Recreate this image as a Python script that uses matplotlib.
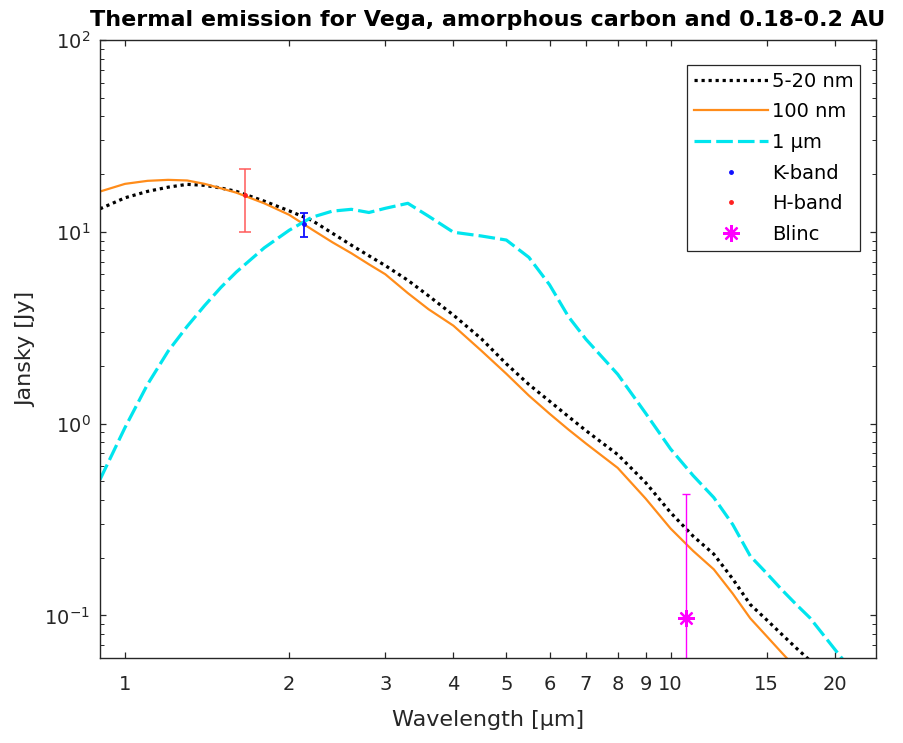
import numpy as np
import matplotlib
matplotlib.use("Agg")
import matplotlib.pyplot as plt
from matplotlib.ticker import LogLocator, NullLocator, FixedLocator, FixedFormatter

plt.rcParams['font.family'] = ['DejaVu Sans']
plt.rcParams['mathtext.fontset'] = 'dejavusans'

# Wavelength grid [um]
wavelength = [0.9, 1.0, 1.1, 1.2, 1.3, 1.4, 1.5, 1.6, 1.8, 2.0, 2.2, 2.4, 2.6, 2.8,
              3.0, 3.3, 3.6, 4.0, 4.5, 5.0, 5.5, 6.0, 6.5, 7.0, 8.0, 9.0, 10.0,
              11.0, 12.0, 13.0, 14.0, 15.0, 16.0, 17.0, 18.0, 20.0, 22.0]

# Model fluxes [Jy]
flux_5_20nm = [13.18, 15.04, 16.25, 17.09, 17.68, 17.47, 16.91, 16.25, 14.45, 12.86,
               11.48, 9.83, 8.52, 7.50, 6.67, 5.59, 4.64, 3.68, 2.77, 2.05, 1.60,
               1.31, 1.088, 0.919, 0.690, 0.493, 0.344, 0.259, 0.209, 0.155, 0.114,
               0.0949, 0.0796, 0.0676, 0.0583, 0.045, 0.035]
flux_100nm = [16.22, 17.78, 18.44, 18.66, 18.52, 17.78, 16.85, 16.00, 14.08, 12.26,
              10.30, 8.82, 7.73, 6.77, 6.01, 4.79, 3.95, 3.24, 2.40, 1.82, 1.40,
              1.127, 0.931, 0.787, 0.588, 0.407, 0.284, 0.217, 0.174, 0.130, 0.0966,
              0.0780, 0.0638, 0.0530, 0.045, 0.035, 0.028]
flux_1um = [0.511, 0.953, 1.602, 2.388, 3.213, 4.131, 5.14, 6.17, 8.25, 10.19,
            11.90, 12.82, 13.10, 12.61, 13.26, 14.08, 12.07, 9.95, 9.51, 9.06, 7.36,
            5.30, 3.61, 2.75, 1.81, 1.134, 0.738, 0.536, 0.412, 0.298, 0.204,
            0.166, 0.136, 0.114, 0.0973, 0.0666, 0.0473]

# Photometry
k_wave, k_flux, k_err = [2.13], [11.0], [1.6]
h_wave, h_flux, h_err = [1.657], [15.6], [5.6]
blinc_wave, blinc_flux, blinc_err = [10.68], [0.097], [0.335]

xtick_vals = [1, 2, 3, 4, 5, 6, 7, 8, 9, 10, 15, 20]
xtick_labels = ['1', '2', '3', '4', '5', '6', '7', '8', '9', '10', '15', '20']

fig = plt.figure(figsize=(9.04, 7.43), dpi=100)
ax = fig.add_axes([100 / 904, 1 - 658 / 743, 776 / 904, 618 / 743])

ax.plot(wavelength, flux_5_20nm, color='black', linestyle=(0, (1, 1.2)),
        linewidth=2.3, label='5-20 nm')
ax.plot(wavelength, flux_100nm, color='#FF8C1A', linewidth=1.6, label='100 nm')
ax.plot(wavelength, flux_1um, color='#00E5EE', linestyle=(0, (5.2, 1.6)),
        linewidth=2.3, label='1 µm')

# Photometric points: error bars first, then the markers that go in the legend
ax.errorbar(k_wave, k_flux, yerr=k_err, fmt='none', ecolor='#1010FF',
            capsize=3.0, elinewidth=1.3, capthick=1.3)
ax.plot(k_wave, k_flux, linestyle='none', marker='.', color='#1010FF',
        markersize=5, label='K-band')
ax.errorbar(h_wave, h_flux, yerr=h_err, fmt='none', ecolor='#FF5A5A',
            capsize=4.6, elinewidth=1.1, capthick=1.1)
ax.plot(h_wave, h_flux, linestyle='none', marker='.', color='#FF2020',
        markersize=5, label='H-band')
ax.errorbar(blinc_wave, blinc_flux, yerr=blinc_err, fmt='none', ecolor='#FF00FF',
            capsize=3.2, elinewidth=1.0, capthick=1.0)
ax.plot(blinc_wave, blinc_flux, linestyle='none', marker=(8, 2, 0), color='#FF00FF',
        markersize=12, markeredgewidth=1.6, label='Blinc')

ax.set_xscale('log')
ax.set_yscale('log')
ax.set_xlim(0.9, 23.8)
ax.set_ylim(0.06, 100)

ax.xaxis.set_major_locator(FixedLocator(xtick_vals))
ax.xaxis.set_major_formatter(FixedFormatter(xtick_labels))
ax.xaxis.set_minor_locator(NullLocator())
ax.yaxis.set_major_locator(LogLocator(base=10, numticks=10))
ax.yaxis.set_minor_locator(LogLocator(base=10, subs=np.arange(2, 10), numticks=20))

axis_color = '#262626'
for s in ax.spines.values():
    s.set_color(axis_color)
    s.set_linewidth(1.0)
ax.tick_params(which='both', direction='in', top=True, right=True,
               colors=axis_color, labelsize=14)
ax.tick_params(which='major', length=4.5, width=0.9)
ax.tick_params(which='minor', length=2.6, width=0.7)
ax.tick_params(axis='x', which='major', pad=12)
ax.tick_params(axis='y', which='major', pad=7)

ax.set_xlabel('Wavelength [µm]', fontsize=16, color=axis_color, labelpad=12)
ax.set_ylabel('Jansky [Jy]', fontsize=16, color=axis_color, labelpad=6)
ax.set_title('Thermal emission for Vega, amorphous carbon and 0.18-0.2 AU',
             fontsize=16, fontweight='bold', pad=10)

leg = ax.legend(loc='upper right', bbox_to_anchor=(0.98, 0.96), fontsize=14,
                handlelength=3.8, fancybox=False, framealpha=1,
                edgecolor=axis_color, borderpad=0.35, labelspacing=0.6,
                handletextpad=0.2, borderaxespad=0)
leg.get_frame().set_linewidth(0.9)

fig.savefig('out.png', dpi=100)
